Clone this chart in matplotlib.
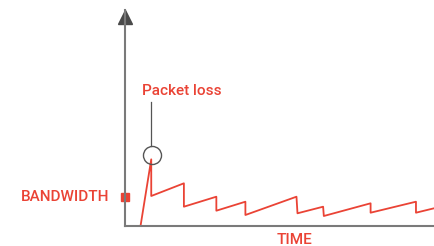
import matplotlib.pyplot as plt

# sawtooth throughput over time (units: px-ish relative to axes origin)
time = [16, 26.7, 26.7, 59.3, 59.3, 91.7, 91.7, 120.7, 120.7, 171.7, 172.7,
        198.3, 199, 245.7, 245.7, 291, 291, 309]
rate = [0, 66.7, 30, 42.7, 19.3, 29.3, 15.3, 24.3, 11, 29.3, 12.7,
        19.3, 10, 22.7, 13.3, 24.3, 13.3, 17.7]
bandwidth = 29.3
loss_point = (27.3, 70.7)

red = '#ea4335'
grey = '#7a7a7a'
plt.rcParams['font.family'] = ['Roboto', 'DejaVu Sans']

fig = plt.figure(figsize=(4.34, 2.46), dpi=100)
ax = fig.add_axes([124.5 / 434, 20 / 246, 309.5 / 434, 216 / 246])
ax.set_xlim(0, 309)
ax.set_ylim(0, 216)
for s in ['top', 'right']:
    ax.spines[s].set_visible(False)
for s in ['left', 'bottom']:
    ax.spines[s].set_color(grey)
    ax.spines[s].set_linewidth(1.5)
ax.set_xticks([])
ax.set_yticks([])

ax.plot(time, rate, color=red, lw=1.3, clip_on=False)

# arrow head on the y axis
ax.plot([0], [209], marker='^', ms=10, color='#4a4a4a', clip_on=False)

# bandwidth marker + label
ax.plot([0], [bandwidth], marker='s', ms=6.2, color=red, clip_on=False)
ax.text(-15, bandwidth, 'BANDWIDTH', color=red, fontsize=11,
        fontweight='medium', ha='right', va='center')

# packet loss callout
ax.plot([loss_point[0]], [loss_point[1]], marker='o', ms=13, mfc='none',
        mec='#555555', mew=1, clip_on=False)
ax.plot([26.7, 26.7], [80, 124.3], color='#555555', lw=0.9)
ax.text(17.7, 135.3, 'Packet loss', color=red, fontsize=11,
        fontweight='medium', ha='left', va='center')

ax.text(169.5, -14, 'TIME', color=red, fontsize=11, fontweight='medium',
        ha='center', va='center')

fig.savefig('out.png', dpi=100)
